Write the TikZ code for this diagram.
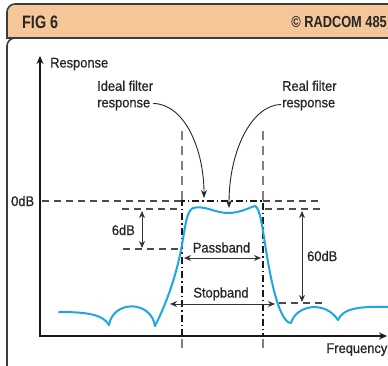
\documentclass[tikz,border=0pt]{standalone}
\usepackage{fontspec}
\setmainfont{Liberation Sans}[FakeStretch=0.92, FakeBold=0.7]
\newfontfamily\headfont{Liberation Sans}[FakeStretch=0.8]
\usetikzlibrary{arrows.meta}
\definecolor{curveblue}{RGB}{30,166,224}
\definecolor{headpeach}{RGB}{245,198,152}
\definecolor{framegray}{RGB}{60,60,60}
\begin{document}
\begin{tikzpicture}[x=1pt,y=-1pt,
  lbl/.style={font=\fontsize{14}{16.5}\selectfont, inner sep=0pt, text=black!85},
  head/.style={font=\headfont\bfseries, inner sep=0pt, text=black!85},
  guide/.style={draw=black!70, line width=1.1pt, dash pattern=on 7pt off 5pt},
  vguide/.style={draw=black!50, line width=1.2pt, dash pattern=on 9pt off 6pt},
  ideal/.style={draw=black!90, line width=1.4pt, dash pattern=on 7pt off 3pt on 1.5pt off 3pt},
  dim/.style={draw=black!80, line width=1pt, {Stealth[length=7pt,width=6pt]}-{Stealth[length=7pt,width=6pt]}},
  callout/.style={draw=black!85, line width=0.9pt, -{Stealth[length=8pt,width=6pt]}},
  axis/.style={draw=black!90, line width=1.8pt, {Stealth[length=8pt,width=7pt]}-{Stealth[length=8pt,width=7pt]}},
  resp/.style={draw=curveblue, line width=2pt, line cap=round, line join=round}
]
\useasboundingbox (0,0) rectangle (388,365);
\clip (0,0) rectangle (388,365);
\fill[white] (0,0) rectangle (388,365);

% panel frame: title band and body
\draw[draw=framegray, line width=1.6pt, fill=headpeach]
  (7,38) -- (7,12) .. controls (7,7.6) and (10.6,4) .. (15,4) -- (400,4) -- (400,38) -- cycle;
\draw[draw=framegray, line width=1.6pt, fill=white]
  (7,372) -- (7,46) .. controls (7,41.6) and (10.6,38) .. (15,38) -- (400,38) -- (400,372);
\node[head, font=\headfont\bfseries\fontsize{18}{20}\selectfont, anchor=base west] (fig) at (22,28) {FIG 6};
\node[head, font=\headfont\bfseries\fontsize{16}{18}\selectfont, anchor=base east] (credit) at (387,27) {© RADCOM 485};

% axes
\coordinate (origin) at (40,336);
\coordinate (ytop) at (40,56);
\coordinate (xend) at (387,336);
\draw[axis] (ytop) -- (origin) -- (xend);
\node[lbl, anchor=base west] (ylabel) at (50,67.5) {Response};
\node[lbl, anchor=base east] (xlabel) at (387.5,353) {Frequency};
\node[lbl, anchor=base west] (zero) at (11,206) {0dB};

% horizontal reference levels
\draw[guide] (42,201) -- (182,201);
\draw[guide] (263,201) -- (322,201);
\draw[guide] (122,209) -- (180,209);
\draw[guide] (265,209) -- (322,209);
\draw[guide] (123,249) -- (179,249);
\draw[guide] (279,303) -- (322,303);

% band edges
\draw[vguide] (182,131) -- (182,201);
\draw[vguide] (263,131) -- (263,201);
\draw[vguide] (182,339) -- (182,352);
\draw[vguide] (263,339) -- (263,352);

% ideal (brick-wall) response
\draw[ideal] (182,336) -- (182,201) -- (263,201) -- (263,336);

% real filter response
\draw[resp] (59,312) .. controls (85,312) and (103,314) .. (109,325);
\draw[resp] (109,325) .. controls (113,300) and (151,300) .. (155,326);
\draw[resp] (155,326) .. controls (168,300) and (176,275) .. (181,250)
  .. controls (185,230) and (186,211) .. (193,208)
  .. controls (205,205) and (215,213) .. (228,213)
  .. controls (240,213) and (248,208) .. (255,206)
  .. controls (260,208) and (262,225) .. (266,250)
  .. controls (270,275) and (275,300) .. (282,314)
  .. controls (285,320) and (288,323) .. (291,323);
\draw[resp] (291,323) .. controls (296,305) and (325,300) .. (338,320);
\draw[resp] (338,320) .. controls (343,308) and (360,306) .. (392,307);

% dimension arrows
\coordinate (sixtop) at (142,211);
\coordinate (sixbot) at (142,248);
\draw[dim] (sixtop) -- (sixbot);
\node[lbl, anchor=base east] (sixlbl) at (135,235) {6dB};
\coordinate (sixtytop) at (302,211);
\coordinate (sixtybot) at (302,302);
\draw[dim] (sixtytop) -- (sixtybot);
\node[lbl, anchor=base west] (sixtylbl) at (307,261) {60dB};
\coordinate (passL) at (184,258);
\coordinate (passR) at (261,258);
\draw[dim] (passL) -- (passR);
\node[lbl, anchor=base] (passlbl) at (221.5,252.5) {Passband};
\coordinate (stopL) at (170,304);
\coordinate (stopR) at (275,304);
\draw[dim] (stopL) -- (stopR);
\node[lbl, anchor=base] (stoplbl) at (221,297.5) {Stopband};

% callouts
\node[lbl, align=left, anchor=north west] (idealtxt) at (97,80.5) {Ideal filter\\response};
\node[lbl, align=left, anchor=north west] (realtxt) at (282,80.5) {Real filter\\response};
\coordinate (idealtip) at (204,198);
\coordinate (realtip) at (229,208);
\draw[callout] ([yshift=7pt]idealtxt.south east) .. controls (185,104) and (204,150) .. (idealtip);
\draw[callout] ([xshift=-1pt,yshift=6pt]realtxt.south west) .. controls (252,105) and (229,150) .. (realtip);
\end{tikzpicture}
\end{document}
